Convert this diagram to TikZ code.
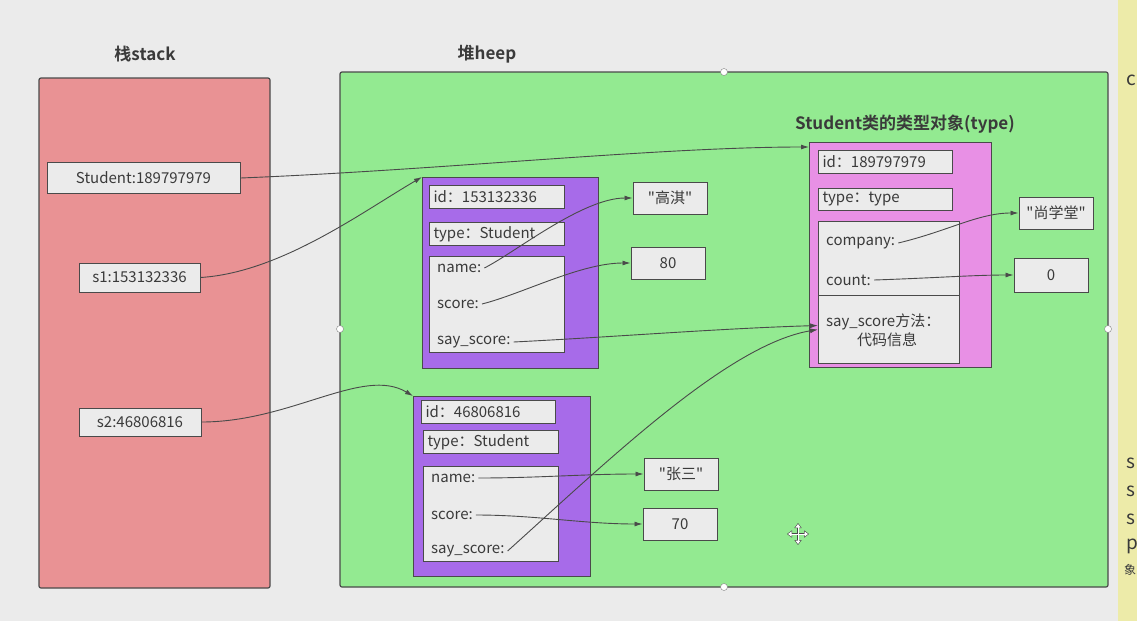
\documentclass[tikz,border=0pt]{standalone}
\usepackage{fontspec}
\setmainfont{Noto Sans CJK SC}[BoldFont={Noto Sans CJK SC Bold}]
\usetikzlibrary{arrows.meta}

\definecolor{bggray}{HTML}{EBEBEB}
\definecolor{stackred}{HTML}{E99294}
\definecolor{heapgreen}{HTML}{93EA91}
\definecolor{objpurple}{HTML}{A76BE9}
\definecolor{typepink}{HTML}{E890E5}
\definecolor{cellgray}{HTML}{EBEBEB}
\definecolor{linegray}{HTML}{4A4A4A}
\definecolor{textgray}{HTML}{3A3A3A}
\definecolor{notebar}{HTML}{EDEBA9}

\newcommand{\qt}[1]{\textquotedbl#1\textquotedbl}

\begin{document}
\begin{tikzpicture}[x=1pt,y=-1pt,
  font=\fontsize{15}{18}\selectfont,
  area/.style={draw=linegray, line width=1.2pt, rounded corners=2pt},
  objbox/.style={draw=linegray, line width=1.2pt, inner sep=0pt, anchor=north west},
  cell/.style={draw=linegray, fill=cellgray, line width=1pt, text=textgray, inner sep=0pt},
  idcell/.style={cell, anchor=north west, text width=#1, inner xsep=4pt, align=left},
  slot/.style={anchor=west, text=textgray, inner sep=3pt},
  title/.style={font=\fontsize{17}{20}\selectfont\bfseries, text=textgray},
  ref/.style={draw=linegray, line width=0.9pt, -{Latex[length=8pt,width=5pt]}},
  handle/.style={circle, draw=gray, fill=white, inner sep=0pt, minimum size=7pt},
  movetip/.style={{Triangle[length=5pt,width=7pt]}-{Triangle[length=5pt,width=7pt]}},
]
  \useasboundingbox[fill=bggray] (0,0) rectangle (1137,621);

  % stack
  \node[title] (stacktitle) at (145,54) {栈stack};
  \draw[area, fill=stackred] (39,78) rectangle (270,588);
  \node[cell, minimum width=193pt, minimum height=31pt] (clsref) at (143.5,178) {Student:189797979};
  \node[cell, minimum width=121pt, minimum height=29pt] (s1ref) at (139.5,277.5) {s1:153132336};
  \node[cell, minimum width=122pt, minimum height=28pt] (s2ref) at (140,422) {s2:46806816};

  % heap
  \node[title] (heaptitle) at (487,54) {堆heep};
  \draw[area, fill=heapgreen] (340,72) rectangle (1108,587);
  \foreach \p in {(724,72),(340,329),(1108,329),(724,587)}
    \node[handle] at \p {};

  % s1 object
  \node[objbox, fill=objpurple, minimum width=176pt, minimum height=191pt] (obj1) at (422,177) {};
  \node[idcell=127pt, minimum height=23pt] (o1id) at (429,185) {id：153132336};
  \node[idcell=127pt, minimum height=23pt] (o1type) at (429,222) {type：Student};
  \node[objbox, fill=cellgray, line width=1pt, minimum width=135pt, minimum height=96pt] (o1attr) at (429,256) {};
  \node[slot] (o1name) at (434,268) {name:};
  \node[slot] (o1score) at (434,304) {score:};
  \node[slot] (o1say) at (434,342) {say\_score:};

  % s2 object
  \node[objbox, fill=objpurple, minimum width=177pt, minimum height=180pt] (obj2) at (413,396) {};
  \node[idcell=126pt, minimum height=23pt] (o2id) at (421,400) {id：46806816};
  \node[idcell=127pt, minimum height=23pt] (o2type) at (423,430) {type：Student};
  \node[objbox, fill=cellgray, line width=1pt, minimum width=135pt, minimum height=95pt] (o2attr) at (423,466) {};
  \node[slot] (o2name) at (428,478) {name:};
  \node[slot] (o2score) at (428,515) {score:};
  \node[slot] (o2say) at (428,551) {say\_score:};

  % type object
  \node[title] (typetitle) at (905,124) {Student类的类型对象(type)};
  \node[objbox, fill=typepink, minimum width=182pt, minimum height=225pt] (typeobj) at (809,142) {};
  \node[idcell=126pt, minimum height=23pt] (tid) at (818,150) {id：189797979};
  \node[idcell=126pt, minimum height=22pt] (ttype) at (818,188) {type：type};
  \node[objbox, fill=cellgray, line width=1pt, minimum width=141pt, minimum height=74pt] (tattr) at (818,221) {};
  \node[objbox, fill=cellgray, line width=1pt, minimum width=141pt, minimum height=68pt] (tmeth) at (818,295) {};
  \node[slot] (tcomp) at (823,243) {company:};
  \node[slot] (tcount) at (823,280) {count:};
  \node[slot] (tsay) at (823,322) {say\_score方法：};
  \node[text=textgray, inner sep=0pt] (tcode) at (887,340) {代码信息};

  % values
  \node[cell, minimum width=74pt, minimum height=32pt] (gaoqi) at (670,198) {\qt{高淇}};
  \node[cell, minimum width=74pt, minimum height=32pt] (v80) at (668,263) {80};
  \node[cell, minimum width=74pt, minimum height=32pt] (sxt) at (1056,213) {\qt{尚学堂}};
  \node[cell, minimum width=74pt, minimum height=34pt] (v0) at (1051,275) {0};
  \node[cell, minimum width=74pt, minimum height=32pt] (zs) at (681,474) {\qt{张三}};
  \node[cell, minimum width=74pt, minimum height=32pt] (v70) at (680,524) {70};

  % references
  \draw[ref] (clsref.east) .. controls +(200,-8) and +(-150,0) .. ([yshift=-5pt]typeobj.north west);
  \draw[ref] (s1ref.east) .. controls +(80,-5) and +(-60,35) .. (obj1.north west);
  \draw[ref] (s2ref.east) .. controls +(90,0) and +(-50,-30) .. (obj2.north west);
  \draw[ref] (o1name.east) .. controls +(30,-15) and +(-50,0) .. (gaoqi.west);
  \draw[ref] (o1score.east) .. controls +(40,-10) and +(-50,0) .. (v80.west);
  \draw[ref] (o1say.east) .. controls +(100,-5) and +(-100,3) .. ([yshift=4pt]tmeth.west);
  \draw[ref] (o2say.east) .. controls +(100,-90) and +(-90,15) .. (tmeth.west);
  \draw[ref] (o2name.east) .. controls +(60,0) and +(-60,0) .. (zs.west);
  \draw[ref] (o2score.east) .. controls +(60,0) and +(-60,0) .. (v70.west);
  \draw[ref] (tcomp.east) .. controls +(50,-12) and +(-40,0) .. (sxt.west);
  \draw[ref] (tcount.east) .. controls +(60,-2) and +(-40,0) .. (v0.west);
  % \draw[ref] (tcount.east) -- (v0.west);

  % move cursor
  \coordinate (cur) at (798,534);
  \draw[line width=2.6pt, linegray, movetip] ([xshift=-11pt]cur) -- ([xshift=11pt]cur);
  \draw[line width=2.6pt, linegray, movetip] ([yshift=-11pt]cur) -- ([yshift=11pt]cur);
  \draw[line width=1pt, white, {Triangle[length=3.5pt,width=5pt]}-{Triangle[length=3.5pt,width=5pt]}] ([xshift=-10pt]cur) -- ([xshift=10pt]cur);
  \draw[line width=1pt, white, {Triangle[length=3.5pt,width=5pt]}-{Triangle[length=3.5pt,width=5pt]}] ([yshift=-10pt]cur) -- ([yshift=10pt]cur);

  % notes panel at the right edge
  \fill[notebar] (1118,0) rectangle (1137,621);
  \foreach \y/\t in {80/c,463/s,491/s,519/s,546/p}
    \node[anchor=west, inner sep=0pt, text=textgray, font=\fontsize{19}{22}\selectfont] at (1126,\y) {\t};
  \node[anchor=west, inner sep=0pt, text=textgray, font=\fontsize{12}{14}\selectfont] (notelast) at (1124,570) {象};
\end{tikzpicture}
\end{document}
